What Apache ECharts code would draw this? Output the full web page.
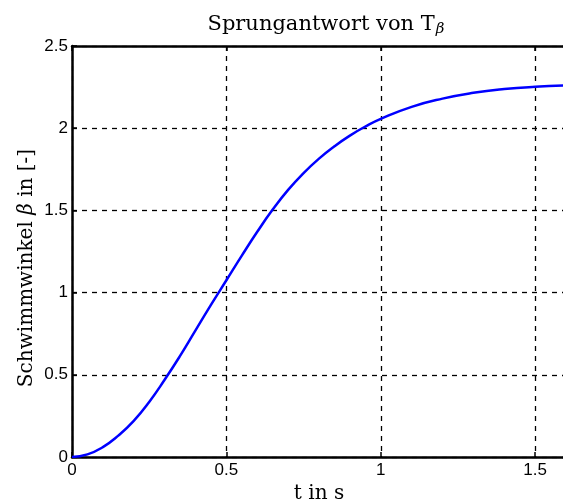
<!DOCTYPE html>
<html><head><meta charset="utf-8">
<script src="https://cdn.jsdelivr.net/npm/echarts@6/dist/echarts.min.js"></script>
<style>html,body{margin:0;padding:0;background:#fff}#c{width:563px;height:499px}</style>
</head><body><div id="c"></div>
<script>
const tValues = [0, 0.05, 0.1, 0.15, 0.2, 0.25, 0.3, 0.35, 0.4, 0.45, 0.5, 0.55, 0.6, 0.65, 0.7, 0.75, 0.8, 0.85, 0.9, 0.95, 1.0, 1.1, 1.2, 1.3, 1.4, 1.5, 1.6];
const betaValues = [0, 0.016, 0.06, 0.13, 0.22, 0.335, 0.47, 0.615, 0.77, 0.925, 1.075, 1.225, 1.37, 1.505, 1.625, 1.727, 1.815, 1.89, 1.955, 2.01, 2.057, 2.13, 2.18, 2.215, 2.238, 2.252, 2.26];
const xTicks = [0, 0.5, 1, 1.5];
const yTicks = [0, 0.5, 1, 1.5, 2, 2.5];
const titleText = 'Sprungantwort von T';
const titleSub = 'β';
const xName = 't in s';
const yNameParts = ['Schwimmwinkel ', 'β', ' in [-]'];

const chart = echarts.init(document.getElementById('c'), null, {renderer: 'canvas'});
const serif = 'DejaVu Serif';
const sans = 'Liberation Sans';
chart.setOption({
  animation: false,
  title: {
    text: '{a|' + titleText + '}{b|' + titleSub + '}',
    left: 321, top: 7, textAlign: 'center',
    textStyle: {
      rich: {
        a: {fontFamily: serif, fontSize: 21, fontWeight: 'normal', color: '#000'},
        b: {fontFamily: serif, fontSize: 15, fontStyle: 'italic', fontWeight: 'normal', color: '#000', padding: [10, 0, 0, 1]}
      }
    }
  },
  grid: {left: 72, top: 46, width: 494, height: 411, containLabel: false, outerBoundsMode: 'none'},
  xAxis: [{
    type: 'value', min: 0, max: 1.6, interval: 0.5,
    axisLine: {lineStyle: {color: '#000', width: 2.5}},
    axisTick: {inside: true, length: 5, lineStyle: {color: '#000', width: 1.5}},
    axisLabel: {fontFamily: sans, fontSize: 17, color: '#000', margin: 5,
      formatter: v => xTicks.includes(v) ? String(v) : ''},
    splitLine: {show: true, lineStyle: {color: '#000', type: [5, 5], width: 1.3}},
    name: xName, nameLocation: 'middle', nameGap: 26,
    nameTextStyle: {fontFamily: serif, fontSize: 20, color: '#000'}
  }, {
    type: 'value', position: 'top', min: 0, max: 1.6, interval: 0.5,
    axisLine: {show: true, lineStyle: {color: '#000', width: 2.5}},
    axisTick: {inside: true, length: 5, lineStyle: {color: '#000', width: 1.5}},
    axisLabel: {show: false}, splitLine: {show: false}
  }],
  yAxis: [{
    type: 'value', min: 0, max: 2.5, interval: 0.5,
    axisLine: {show: true, lineStyle: {color: '#000', width: 2.5}},
    axisTick: {inside: true, length: 5, lineStyle: {color: '#000', width: 1.5}},
    axisLabel: {fontFamily: sans, fontSize: 17, color: '#000', margin: 4,
      formatter: v => yTicks.includes(v) ? String(v) : ''},
    splitLine: {show: true, lineStyle: {color: '#000', type: [5, 5], width: 1.3}}
  }],
  graphic: [{
    type: 'text', x: 27, y: 268, rotation: Math.PI / 2,
    style: {
      text: '{a|' + yNameParts[0] + '}{b|' + yNameParts[1] + '}{a|' + yNameParts[2] + '}',
      align: 'center', verticalAlign: 'middle',
      rich: {
        a: {fontFamily: serif, fontSize: 20, fill: '#000'},
        b: {fontFamily: serif, fontSize: 20, fontStyle: 'italic', fill: '#000'}
      }
    }
  }],
  series: [{
    type: 'line', data: tValues.map((t, i) => [t, betaValues[i]]),
    smooth: 0.5, showSymbol: false, clip: true,
    lineStyle: {color: '#0000ff', width: 2.5}
  }]
});
</script></body></html>
